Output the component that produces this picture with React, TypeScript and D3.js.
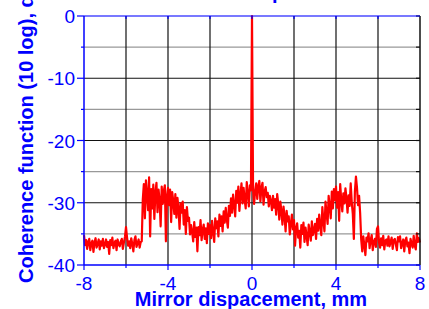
import * as d3 from "d3";

// coherence function, dB, sampled every 0.05 mm from -8 mm (one row per mm)
const X_START = -8;
const X_STEP = 0.05;
const rowM8 = [-35.2, -36.8, -36.0, -37.4, -36.3, -35.8, -37.6, -36.5, -36.1, -37.9, -36.4, -35.7, -37.2, -36.6, -35.9, -37.5, -36.2, -36.9, -35.8, -37.3];
const rowM7 = [-36.7, -35.9, -37.1, -36.3, -38.2, -36.0, -36.8, -35.6, -37.3, -36.5, -36.1, -37.6, -35.9, -36.7, -37.0, -36.2, -35.8, -37.4, -36.4, -35.5];
const rowM6 = [-33.9, -35.6, -36.9, -36.2, -37.3, -35.7, -36.6, -37.8, -36.0, -35.4, -37.1, -36.5, -35.9, -37.2, -36.3, -36.2, -29.5, -27.0, -32.5, -26.4];
const rowM5 = [-28.6, -31.2, -25.9, -35.4, -27.8, -30.9, -27.1, -32.6, -28.4, -26.8, -31.5, -27.9, -29.6, -33.8, -27.4, -30.2, -28.1, -27.2, -36.2, -29.0];
const rowM4 = [-27.6, -30.4, -27.9, -33.1, -28.3, -29.7, -31.8, -28.6, -32.4, -29.2, -30.9, -34.2, -30.1, -31.6, -29.8, -33.5, -31.2, -35.0, -30.7, -32.9];
const rowM3 = [-32.4, -35.1, -33.6, -34.7, -36.2, -33.1, -35.5, -34.0, -37.8, -33.9, -35.2, -32.8, -36.0, -34.4, -33.5, -35.8, -34.1, -36.5, -33.3, -35.0];
const rowM2 = [-33.6, -35.7, -32.9, -34.8, -36.3, -32.5, -34.1, -33.0, -35.4, -31.9, -33.7, -32.2, -34.6, -31.4, -33.2, -30.8, -32.7, -34.0, -30.5, -32.1];
const rowM1 = [-29.3, -31.6, -28.7, -30.4, -32.2, -28.1, -30.0, -27.4, -31.3, -28.8, -26.9, -30.1, -27.6, -29.5, -30.9, -26.7, -28.4, -30.6, -27.2, -28.0];
const rowP0 = [0, -27.8, -30.2, -28.1, -26.9, -29.4, -27.3, -26.5, -29.8, -27.6, -26.8, -30.3, -28.2, -27.5, -29.1, -28.4, -30.6, -28.9, -29.7, -31.2];
const rowP1 = [-28.9, -30.8, -29.4, -31.9, -28.6, -30.2, -32.7, -29.8, -31.4, -33.5, -30.6, -32.1, -34.6, -31.3, -33.0, -32.2, -35.1, -33.4, -31.9, -34.3];
const rowP2 = [-32.8, -36.9, -34.1, -33.3, -35.6, -34.5, -37.2, -33.6, -35.0, -33.2, -36.3, -34.0, -35.4, -36.8, -33.5, -34.7, -36.1, -33.0, -35.2, -34.4];
const rowP3 = [-33.4, -35.8, -32.6, -34.5, -31.9, -33.8, -35.2, -30.7, -32.9, -34.6, -29.8, -31.7, -33.4, -28.9, -30.6, -32.5, -28.2, -30.9, -27.8, -29.6];
const rowP4 = [-27.4, -30.8, -28.3, -32.9, -27.0, -29.6, -31.4, -28.5, -30.1, -27.7, -29.3, -31.6, -28.8, -30.5, -26.9, -29.9, -31.8, -35.8, -28.2, -25.8];
const rowP5 = [-27.6, -30.4, -28.9, -31.7, -35.9, -37.8, -35.4, -36.9, -38.4, -35.6, -36.2, -34.9, -37.3, -36.0, -35.2, -37.6, -36.3, -35.8, -37.1, -34.2];
const rowP6 = [-33.8, -36.4, -37.2, -35.7, -36.8, -35.3, -37.5, -36.1, -35.9, -36.9, -35.4, -37.0, -36.3, -35.6, -37.4, -36.0, -35.8, -36.7, -37.6, -35.5];
const rowP7 = [-36.2, -35.4, -37.3, -36.5, -35.9, -37.8, -36.1, -35.6, -37.0, -36.4, -38.1, -35.8, -36.6, -37.2, -35.3, -36.9, -37.5, -34.9, -36.3, -35.7];
const rowEnd = [-36.4];

const coherenceDb = [
  ...rowM8, ...rowM7, ...rowM6, ...rowM5, ...rowM4, ...rowM3, ...rowM2, ...rowM1,
  ...rowP0, ...rowP1, ...rowP2, ...rowP3, ...rowP4, ...rowP5, ...rowP6, ...rowP7, ...rowEnd,
];

const xLabelTicks = [-8, -4, 0, 4, 8];
const xGridTicks = [-6, -4, -2, 0, 2, 4, 6];
const xMinorTicks = [-6, -2, 2, 6];
const yMajorTicks = [0, -10, -20, -30, -40];
const yMinorTicks = [-5, -15, -25, -35];

const W = 429;
const H = 309;
const FONT = "'Liberation Sans', Arial, sans-serif";
const BLUE = "#0000ff";

export default function App() {
  const x = d3.scaleLinear().domain([-8, 8]).range([84, 420]);
  const y = d3.scaleLinear().domain([-40, 0]).range([265, 16]);

  const line = d3
    .line<number>()
    .x((_, i) => x(X_START + i * X_STEP))
    .y((d) => y(d));

  const [x0, x1] = x.range();
  const [yb, yt] = y.range();

  return (
    <svg
      width={W}
      height={H}
      style={{ position: "fixed", left: 0, top: 0, background: "#fff" }}
      fontFamily={FONT}
    >
      <rect width={W} height={H} fill="#fff" />

      {/* grid */}
      {yMinorTicks.map((t) => (
        <line key={"gm" + t} x1={x0} x2={x1} y1={y(t)} y2={y(t)} stroke="#999" strokeWidth={1.2} />
      ))}
      {yMajorTicks.slice(1, -1).map((t) => (
        <line key={"gy" + t} x1={x0} x2={x1} y1={y(t)} y2={y(t)} stroke="#111" strokeWidth={1.2} />
      ))}
      {xGridTicks.map((t) => (
        <line key={"gx" + t} x1={x(t)} x2={x(t)} y1={yt} y2={yb} stroke="#111" strokeWidth={1.2} />
      ))}

      {/* data */}
      <path d={line(coherenceDb) ?? ""} fill="none" stroke="#ff0000" strokeWidth={2.2} strokeLinejoin="round" />

      {/* right axis, black, inward ticks */}
      <line x1={x1} x2={x1} y1={yt} y2={yb} stroke="#111" strokeWidth={1.5} />
      {[...yMajorTicks, ...yMinorTicks].map((t) => (
        <line key={"ry" + t} x1={x1 - 4} x2={x1} y1={y(t)} y2={y(t)} stroke="#111" strokeWidth={1.2} />
      ))}

      {/* top axis, blue, inward ticks */}
      <line x1={x0} x2={x1} y1={yt} y2={yt} stroke={BLUE} strokeWidth={1.5} opacity={0.7} />
      {xGridTicks.map((t) => (
        <line key={"tx" + t} x1={x(t)} x2={x(t)} y1={yt} y2={yt + 3} stroke={BLUE} strokeWidth={1.2} />
      ))}

      {/* left axis */}
      <line x1={x0} x2={x0} y1={yt} y2={yb} stroke={BLUE} strokeWidth={1.5} />
      {yMajorTicks.map((t) => (
        <g key={"ly" + t}>
          <line x1={x0 - 7} x2={x0} y1={y(t)} y2={y(t)} stroke={BLUE} strokeWidth={1.2} />
          <text x={x0 - 9} y={y(t) + 7} textAnchor="end" fontSize={19} fill={BLUE}>
            {t}
          </text>
        </g>
      ))}
      {yMinorTicks.map((t) => (
        <line key={"lm" + t} x1={x0 - 3} x2={x0} y1={y(t)} y2={y(t)} stroke={BLUE} strokeWidth={1.2} />
      ))}

      {/* bottom axis */}
      <line x1={x0} x2={x1} y1={yb} y2={yb} stroke={BLUE} strokeWidth={1.5} />
      {xLabelTicks.map((t) => (
        <g key={"bx" + t}>
          <line x1={x(t)} x2={x(t)} y1={yb} y2={yb + 5} stroke={BLUE} strokeWidth={1.2} />
          <text x={x(t)} y={289.5} textAnchor="middle" fontSize={19} fill={BLUE}>
            {t}
          </text>
        </g>
      ))}
      {xMinorTicks.map((t) => (
        <line key={"bm" + t} x1={x(t)} x2={x(t)} y1={yb} y2={yb + 3} stroke={BLUE} strokeWidth={1.2} />
      ))}

      {/* titles */}
      <text x={251} y={305.5} textAnchor="middle" fontSize={20} fontWeight="bold" fill={BLUE}>
        Mirror dispacement, mm
      </text>
      <text
        transform="translate(33,283) rotate(-90)"
        textAnchor="start"
        fontSize={20}
        fontWeight="bold"
        fill={BLUE}
      >
        Coherence function (10 log), dB
      </text>
      <text x={143} y={-1} fontSize={20} fontWeight="bold" fill={BLUE}>
        Interlaced dispacement
      </text>
    </svg>
  );
}
